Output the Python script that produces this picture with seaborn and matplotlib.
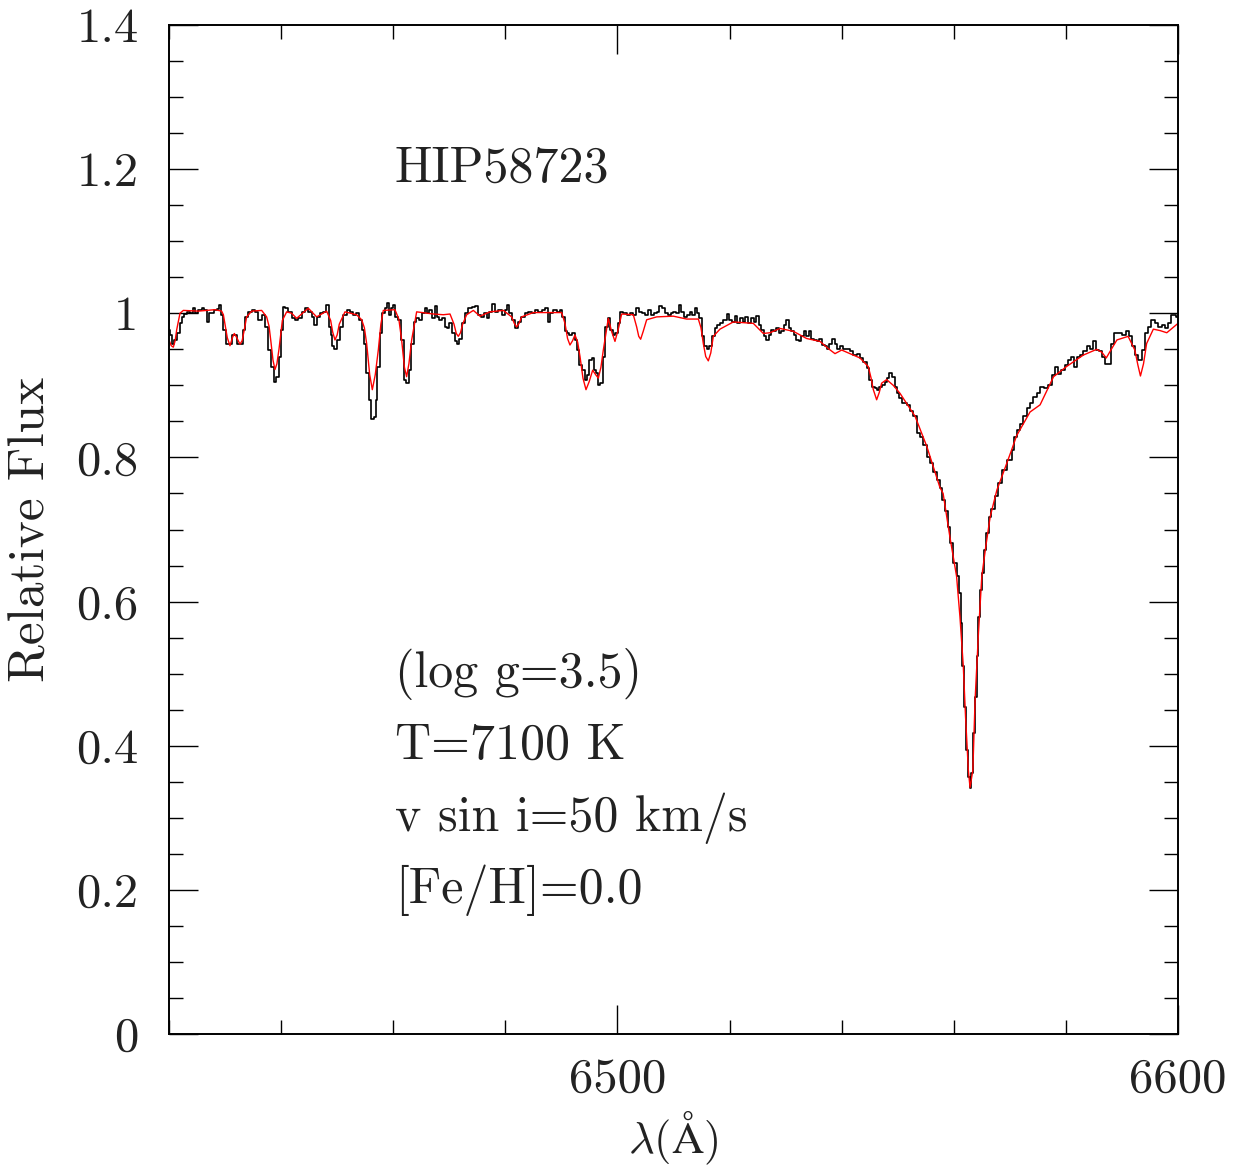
import numpy as np
import pandas as pd
import matplotlib
matplotlib.use("Agg")
import matplotlib.pyplot as plt
import seaborn as sns
from matplotlib.ticker import FixedLocator, FixedFormatter, MultipleLocator

# ---------------- data ----------------
# observed spectrum (black)
obs_wave = [
    6420.00, 6420.36, 6420.77, 6421.19, 6421.66, 6422.14, 6422.56, 6422.97, 6423.45, 6424.04,
    6424.52, 6424.93, 6425.53, 6426.12, 6426.54, 6426.90, 6427.31, 6427.91, 6428.32, 6428.80,
    6429.16, 6429.51, 6429.87, 6430.29, 6430.88, 6431.48, 6431.89, 6432.37, 6432.96, 6433.44,
    6433.85, 6434.45, 6435.04, 6435.64, 6436.23, 6436.83, 6437.42, 6438.02, 6438.43, 6438.91,
    6439.38, 6439.80, 6440.10, 6440.57, 6440.99, 6441.58, 6442.18, 6442.77, 6443.37, 6443.96,
    6444.56, 6445.15, 6445.75, 6446.16, 6446.64, 6447.23, 6447.83, 6448.24, 6448.72, 6449.01,
    6449.31, 6449.73, 6450.20, 6450.80, 6451.39, 6451.99, 6452.58, 6453.17, 6453.65, 6454.07,
    6454.66, 6454.96, 6455.38, 6455.85, 6456.27, 6456.74, 6457.04, 6457.34, 6457.82, 6458.23,
    6458.71, 6459.01, 6459.42, 6459.84, 6460.19, 6460.61, 6461.21, 6461.62, 6462.10, 6462.57,
    6462.99, 6463.41, 6463.88, 6464.36, 6464.77, 6465.37, 6465.85, 6466.26, 6466.68, 6467.16,
    6467.63, 6468.05, 6468.46, 6468.94, 6469.41, 6469.83, 6470.13, 6470.72, 6471.20, 6471.61,
    6472.03, 6472.51, 6472.98, 6473.70, 6474.29, 6474.89, 6475.36, 6475.96, 6476.37, 6476.97,
    6477.38, 6477.98, 6478.45, 6479.05, 6479.64, 6480.12, 6480.53, 6480.95, 6481.43, 6482.02,
    6482.50, 6483.09, 6483.80, 6484.40, 6484.99, 6485.59, 6486.18, 6486.78, 6487.37, 6487.85,
    6488.26, 6488.86, 6489.45, 6490.05, 6490.34, 6490.82, 6491.24, 6491.65, 6492.13, 6492.60,
    6493.02, 6493.44, 6493.91, 6494.39, 6494.80, 6495.22, 6495.58, 6495.99, 6496.41, 6496.77,
    6497.18, 6497.60, 6498.07, 6498.55, 6498.97, 6499.38, 6499.86, 6500.33, 6500.75, 6501.34,
    6501.94, 6502.53, 6503.13, 6503.54, 6504.02, 6504.62, 6505.21, 6505.81, 6506.28, 6506.70,
    6507.29, 6507.71, 6508.19, 6508.66, 6509.26, 6509.67, 6510.27, 6510.68, 6511.16, 6511.63,
    6512.05, 6512.65, 6513.06, 6513.54, 6514.01, 6514.43, 6514.84, 6515.20, 6515.62, 6516.21,
    6516.63, 6517.10, 6517.58, 6517.90, 6518.59, 6519.19, 6519.78, 6520.20, 6520.67, 6521.15,
    6521.62, 6522.16, 6522.58, 6523.05, 6523.53, 6524.12, 6524.54, 6524.95, 6525.43, 6525.90,
    6526.32, 6526.74, 6527.21, 6527.69, 6528.10, 6528.52, 6528.99, 6529.47, 6529.95, 6530.30,
    6530.78, 6531.26, 6531.67, 6532.09, 6532.56, 6533.04, 6533.46, 6533.93, 6534.35, 6534.82,
    6535.42, 6535.83, 6536.25, 6536.73, 6537.20, 6537.62, 6538.03, 6538.51, 6538.99, 6539.40,
    6540.00, 6540.59, 6541.19, 6541.78, 6542.38, 6542.97, 6543.56, 6544.16, 6544.75, 6545.17,
    6545.65, 6546.12, 6546.54, 6546.95, 6547.43, 6547.91, 6548.32, 6548.74, 6549.21, 6549.69,
    6550.11, 6550.40, 6551.30, 6551.89, 6552.49, 6553.08, 6553.68, 6554.27, 6554.86, 6555.46,
    6556.05, 6556.65, 6557.24, 6557.84, 6558.13, 6558.72, 6559.20, 6559.62, 6560.21, 6560.81,
    6561.10, 6561.40, 6561.70, 6562.11, 6562.41, 6562.71, 6563.01, 6563.30, 6563.60, 6563.96,
    6564.25, 6564.55, 6564.85, 6565.15, 6565.56, 6565.98, 6566.45, 6566.93, 6567.64, 6568.24,
    6569.13, 6570.02, 6570.62, 6570.92, 6571.51, 6572.11, 6572.70, 6573.30, 6573.89, 6574.49,
    6575.08, 6575.68, 6576.57, 6577.16, 6577.76, 6578.35, 6578.83, 6579.54, 6580.14, 6580.73,
    6581.21, 6581.62, 6582.22, 6582.81, 6583.41, 6584.00, 6584.60, 6585.19, 6585.61, 6586.20,
    6586.68, 6587.15, 6587.75, 6588.34, 6588.94, 6589.65, 6590.36, 6590.96, 6591.55, 6592.15,
    6592.62, 6593.22, 6593.81, 6594.29, 6594.88, 6595.60, 6596.19, 6596.79, 6597.38, 6597.98,
    6598.57, 6599.05, 6599.46, 6599.88,
]
obs_flux = [
    0.977, 0.970, 0.958, 0.963, 0.972, 0.986, 0.995, 0.999, 1.002, 1.000,
    1.008, 1.000, 1.004, 1.007, 1.005, 0.988, 1.000, 1.000, 1.005, 1.006,
    1.012, 0.998, 0.977, 0.958, 0.957, 0.970, 0.970, 0.958, 0.958, 0.977,
    0.995, 1.002, 1.005, 1.002, 0.991, 0.998, 0.981, 0.949, 0.926, 0.905,
    0.912, 0.940, 0.977, 1.009, 1.007, 1.002, 0.993, 0.991, 0.993, 1.002,
    1.007, 1.002, 0.995, 0.984, 0.995, 1.000, 1.002, 1.012, 0.981, 0.970,
    0.954, 0.951, 0.963, 0.981, 0.998, 1.005, 1.002, 0.998, 1.000, 0.991,
    0.977, 0.958, 0.917, 0.880, 0.854, 0.856, 0.880, 0.926, 0.972, 1.000,
    1.007, 1.014, 0.998, 1.007, 1.012, 0.995, 0.991, 0.963, 0.907, 0.903,
    0.921, 0.958, 0.988, 0.993, 0.991, 1.000, 1.007, 1.000, 1.005, 0.993,
    1.010, 0.995, 0.991, 0.993, 0.981, 0.979, 0.986, 0.972, 0.961, 0.958,
    0.965, 0.986, 1.000, 1.007, 1.009, 1.010, 0.998, 0.995, 1.000, 0.993,
    1.002, 1.013, 1.002, 1.005, 0.998, 1.005, 1.012, 1.000, 0.991, 0.979,
    0.988, 0.995, 1.000, 1.002, 1.000, 1.005, 1.002, 1.005, 1.007, 0.988,
    1.000, 1.005, 1.002, 1.005, 0.995, 0.975, 0.972, 0.970, 0.972, 0.963,
    0.949, 0.928, 0.921, 0.907, 0.914, 0.935, 0.938, 0.921, 0.917, 0.900,
    0.903, 0.940, 0.981, 0.993, 0.977, 0.970, 0.972, 0.986, 1.002, 1.000,
    0.998, 1.000, 0.998, 1.007, 1.002, 1.000, 0.998, 1.005, 0.998, 1.000,
    1.002, 1.010, 1.007, 1.000, 0.998, 1.000, 1.002, 1.000, 1.012, 1.002,
    0.995, 0.998, 1.002, 0.998, 1.007, 1.000, 0.993, 0.968, 0.954, 0.951,
    0.954, 0.968, 0.979, 0.984, 0.986, 0.991, 0.999, 0.991, 0.988, 0.996,
    0.986, 0.993, 0.988, 0.995, 0.986, 0.993, 0.988, 0.996, 0.984, 0.977,
    0.968, 0.963, 0.970, 0.977, 0.975, 0.979, 0.972, 0.975, 0.984, 0.990,
    0.979, 0.975, 0.970, 0.963, 0.961, 0.968, 0.975, 0.968, 0.975, 0.965,
    0.963, 0.961, 0.965, 0.956, 0.954, 0.951, 0.958, 0.965, 0.958, 0.951,
    0.954, 0.951, 0.951, 0.947, 0.942, 0.944, 0.938, 0.933, 0.924, 0.907,
    0.898, 0.896, 0.894, 0.898, 0.900, 0.905, 0.910, 0.917, 0.912, 0.898,
    0.889, 0.882, 0.875, 0.873, 0.864, 0.857, 0.834, 0.829, 0.817, 0.801,
    0.792, 0.780, 0.769, 0.757, 0.741, 0.725, 0.704, 0.681, 0.653, 0.635,
    0.612, 0.570, 0.510, 0.454, 0.394, 0.357, 0.342, 0.362, 0.417, 0.468,
    0.524, 0.579, 0.616, 0.639, 0.672, 0.695, 0.718, 0.729, 0.746, 0.764,
    0.783, 0.797, 0.810, 0.829, 0.838, 0.847, 0.857, 0.868, 0.875, 0.884,
    0.889, 0.898, 0.896, 0.900, 0.914, 0.926, 0.916, 0.921, 0.928, 0.935,
    0.940, 0.926, 0.940, 0.942, 0.947, 0.954, 0.951, 0.961, 0.949, 0.947,
    0.940, 0.930, 0.930, 0.958, 0.972, 0.973, 0.970, 0.975, 0.968, 0.954,
    0.942, 0.935, 0.949, 0.972, 0.981, 0.991, 0.986, 0.981, 0.984, 0.979,
    0.986, 0.998, 0.998, 0.995,
]

# synthetic model spectrum (red)
model_wave = [
    6420.00, 6420.40, 6420.77, 6421.10, 6421.37, 6421.96, 6422.56, 6425.23, 6428.20, 6429.39,
    6429.70, 6429.99, 6430.40, 6430.88, 6431.30, 6431.65, 6432.10, 6432.66, 6433.05, 6433.38,
    6433.85, 6434.75, 6436.53, 6437.42, 6437.85, 6438.19, 6438.55, 6438.91, 6439.25, 6439.62,
    6440.22, 6440.99, 6441.88, 6442.77, 6444.85, 6446.34, 6448.12, 6448.84, 6449.20, 6449.61,
    6450.00, 6450.38, 6451.39, 6453.47, 6454.37, 6454.85, 6455.26, 6455.80, 6456.27, 6456.80,
    6457.34, 6457.80, 6458.23, 6460.31, 6461.00, 6461.50, 6462.00, 6462.39, 6462.80, 6463.29,
    6464.18, 6467.16, 6468.94, 6470.13, 6470.84, 6471.25, 6471.61, 6472.00, 6472.39, 6473.10,
    6474.29, 6475.48, 6477.26, 6479.64, 6481.13, 6481.60, 6482.02, 6482.45, 6482.91, 6484.99,
    6490.05, 6490.64, 6491.10, 6491.53, 6492.00, 6492.42, 6492.90, 6493.32, 6493.85, 6494.39,
    6494.95, 6495.58, 6496.10, 6496.59, 6497.05, 6497.48, 6498.37, 6498.95, 6499.56, 6500.15,
    6500.75, 6502.83, 6503.43, 6503.80, 6504.14, 6504.60, 6505.21, 6507.00, 6509.97, 6512.35,
    6514.43, 6514.90, 6515.32, 6515.75, 6516.21, 6516.65, 6517.10, 6518.29, 6520.67, 6524.24,
    6526.02, 6527.21, 6528.99, 6531.37, 6533.75, 6536.13, 6537.62, 6538.81, 6540.00, 6541.48,
    6543.27, 6544.75, 6545.25, 6545.65, 6546.24, 6546.70, 6547.13, 6548.02, 6549.21, 6550.40,
    6553.10, 6555.20, 6557.50, 6558.10, 6559.30, 6560.50, 6561.10, 6561.70, 6562.10, 6562.60,
    6562.90, 6563.40, 6563.80, 6564.40, 6565.00, 6565.70, 6566.50, 6567.70, 6568.80, 6570.30,
    6571.20, 6573.60, 6575.40, 6577.80, 6580.10, 6583.10, 6585.50, 6586.40, 6587.20, 6588.10,
    6589.10, 6591.10, 6592.30, 6592.85, 6593.30, 6593.85, 6594.40, 6595.60, 6596.80, 6598.00,
    6600.00,
]
model_flux = [
    0.963, 0.955, 0.953, 0.962, 0.977, 1.000, 1.004, 1.003, 1.005, 1.003,
    0.998, 0.985, 0.966, 0.955, 0.966, 0.972, 0.966, 0.957, 0.962, 0.975,
    0.995, 1.003, 1.004, 0.995, 0.982, 0.960, 0.935, 0.922, 0.930, 0.950,
    0.990, 1.002, 1.000, 0.993, 1.007, 0.995, 1.003, 0.990, 0.974, 0.963,
    0.970, 0.985, 1.002, 0.998, 0.991, 0.980, 0.958, 0.915, 0.894, 0.915,
    0.949, 0.985, 1.004, 1.005, 0.992, 0.963, 0.925, 0.912, 0.930, 0.963,
    1.002, 0.999, 0.998, 0.999, 0.985, 0.972, 0.968, 0.973, 0.985, 0.998,
    1.004, 0.996, 1.002, 1.004, 0.995, 0.986, 0.981, 0.986, 0.995, 1.001,
    1.001, 0.986, 0.965, 0.956, 0.962, 0.970, 0.960, 0.940, 0.910, 0.894,
    0.905, 0.921, 0.915, 0.910, 0.925, 0.949, 0.993, 0.975, 0.961, 0.978,
    0.999, 0.998, 0.981, 0.968, 0.964, 0.975, 0.991, 0.995, 0.996, 0.992,
    0.992, 0.980, 0.958, 0.940, 0.934, 0.945, 0.968, 0.978, 0.988, 0.986,
    0.972, 0.973, 0.979, 0.975, 0.965, 0.961, 0.951, 0.944, 0.949, 0.944,
    0.938, 0.926, 0.910, 0.894, 0.880, 0.890, 0.903, 0.908, 0.900, 0.889,
    0.857, 0.815, 0.759, 0.750, 0.690, 0.635, 0.579, 0.510, 0.440, 0.366,
    0.342, 0.366, 0.463, 0.556, 0.635, 0.676, 0.718, 0.755, 0.778, 0.810,
    0.830, 0.863, 0.873, 0.912, 0.926, 0.942, 0.950, 0.946, 0.938, 0.950,
    0.963, 0.968, 0.949, 0.928, 0.913, 0.930, 0.958, 0.978, 0.976, 0.973,
    0.986,
]

y_ticks = [0.0, 0.2, 0.4, 0.6, 0.8, 1.0, 1.2, 1.4]
y_tick_labels = ["0", "0.2", "0.4", "0.6", "0.8", "1", "1.2", "1.4"]
x_ticks = [6500, 6600]
x_tick_labels = ["6500", "6600"]

star_name = "HIP58723"
param_lines = ["(log g=3.5)", "T=7100 K", "v sin i=50 km/s", "[Fe/H]=0.0"]
param_y = [0.5, 0.4, 0.3, 0.2]

# ---------------- plotting ----------------
sns.set_theme(style="ticks")
FONT = ["cmr10", "DejaVu Serif"]
plt.rcParams["font.family"] = FONT
plt.rcParams["mathtext.fontset"] = "cm"
plt.rcParams["axes.unicode_minus"] = False

obs = pd.DataFrame({"wave": obs_wave, "flux": obs_flux})
mod = pd.DataFrame({"wave": model_wave, "flux": model_flux})

W, H = 1248, 1166
fig = plt.figure(figsize=(W / 100, H / 100), dpi=100)
ax = fig.add_axes([169 / W, (H - 1034) / H, 1009 / W, 1009 / H])

sns.lineplot(data=obs, x="wave", y="flux", ax=ax, color="black", lw=1.2,
             drawstyle="steps-mid", estimator=None, sort=True)
sns.lineplot(data=mod, x="wave", y="flux", ax=ax, color="#ff0000", lw=1.0,
             estimator=None, sort=True)

ax.set_xlim(6420, 6600)
ax.set_ylim(0, 1.4)

ax.xaxis.set_major_locator(FixedLocator(x_ticks))
ax.xaxis.set_major_formatter(FixedFormatter(x_tick_labels))
ax.xaxis.set_minor_locator(MultipleLocator(20))
ax.yaxis.set_major_locator(FixedLocator(y_ticks))
ax.yaxis.set_major_formatter(FixedFormatter(y_tick_labels))
ax.yaxis.set_minor_locator(MultipleLocator(0.05))

ax.tick_params(which="both", direction="in", top=True, right=True,
               color="black", width=1.0, labelsize=35, labelcolor="#222222")
ax.tick_params(which="major", length=21)
ax.tick_params(which="minor", length=10)
ax.tick_params(axis="y", which="major", pad=22)
ax.tick_params(axis="x", which="major", pad=17)

for s in ax.spines.values():
    s.set_linewidth(1.4)
    s.set_color("black")

ax.set_xlabel(r"$\lambda(\mathrm{\AA})$", fontsize=32, color="#222222")
ax.set_ylabel("Relative Flux", fontsize=37, color="#222222")
ax.xaxis.set_label_coords(0.5, -0.074)
ax.yaxis.set_label_coords(-0.113, 0.5)

ax.text(6460.3, 1.2, star_name, fontsize=36, color="#222222", ha="left", va="center")
for txt, yy in zip(param_lines, param_y):
    ax.text(6460.3, yy, txt, fontsize=36, color="#222222", ha="left", va="center")

for lab in ax.get_xticklabels() + ax.get_yticklabels():
    lab.set_fontfamily(FONT)
ax.yaxis.label.set_fontfamily(FONT)

fig.savefig("out.png", dpi=100, facecolor="white")
